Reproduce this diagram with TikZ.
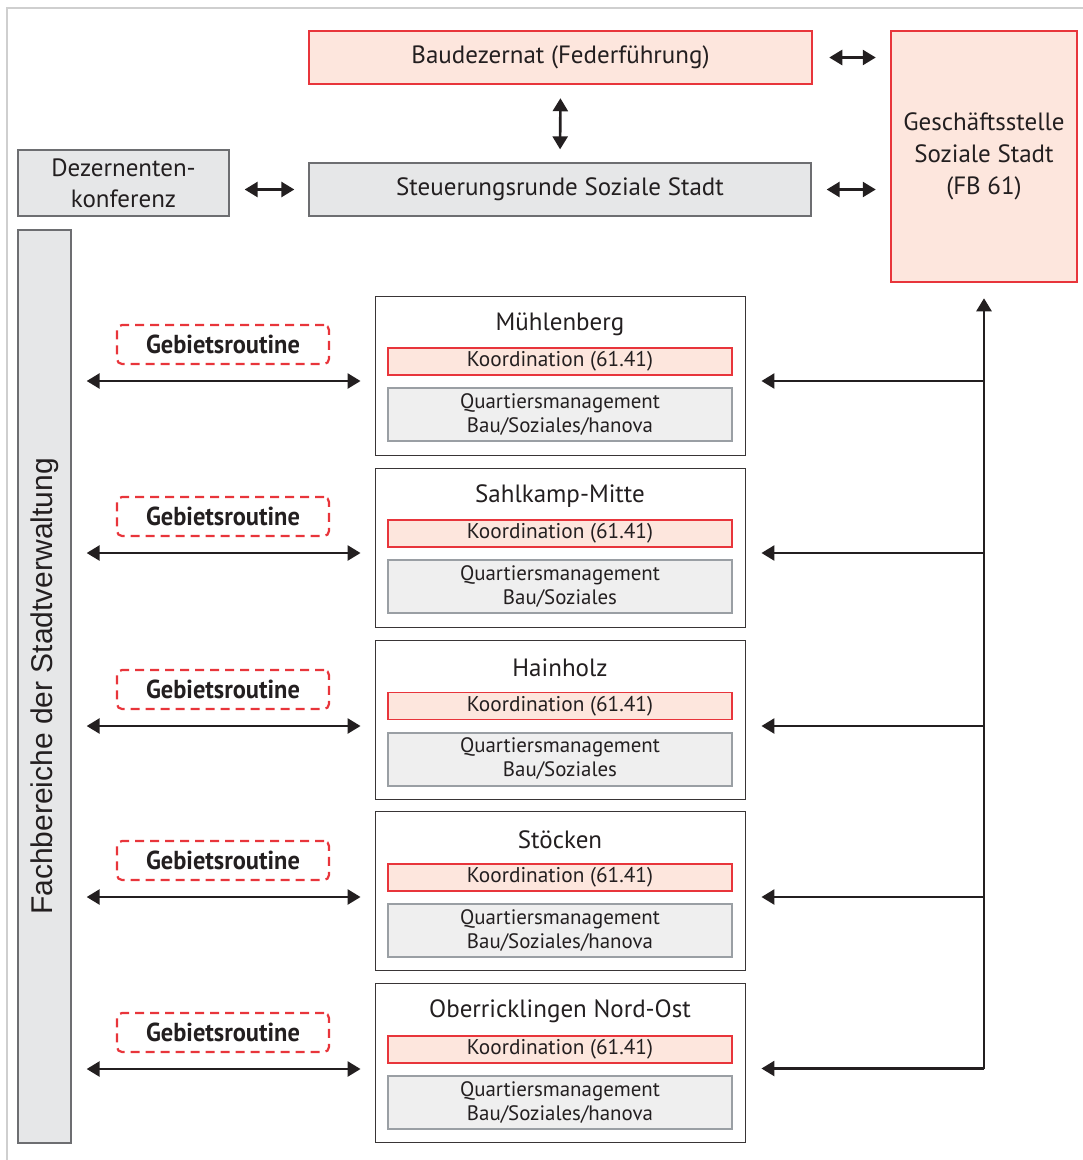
\documentclass[tikz,border=0pt]{standalone}
\usepackage{fontspec}
\setmainfont{PT Sans}
\newfontfamily\fachfont{Liberation Sans}
\newfontfamily\gebietfont[FakeStretch=0.94]{PT Sans}
\usetikzlibrary{arrows.meta}

\definecolor{rahmen}{HTML}{CFCFCF}
\definecolor{rot}{HTML}{E8353B}
\definecolor{rosa}{HTML}{FDE6DD}
\definecolor{grau}{HTML}{E6E7E8}
\definecolor{hellgrau}{HTML}{EFEFEF}
\definecolor{randgrau}{HTML}{6D6E71}
\definecolor{qmrand}{HTML}{9A9FA4}
\definecolor{schrift}{HTML}{231F20}

\tikzset{
  kasten/.style   ={inner sep=0pt, align=center, text=schrift},
  rotbox/.style   ={kasten, draw=rot, line width=2.5pt, fill=rosa, font=\fontsize{25}{32}\selectfont},
  graubox/.style  ={kasten, draw=randgrau, line width=1.3pt, fill=grau, font=\fontsize{25}{31}\selectfont},
  gebiet/.style   ={kasten, draw=schrift!90, line width=0.9pt, fill=white, minimum width=370pt, minimum height=159pt},
  titel/.style    ={kasten, font=\fontsize{25}{28}\selectfont},
  koord/.style    ={kasten, draw=rot, line width=1.6pt, fill=rosa, minimum width=344pt, minimum height=27pt, font=\fontsize{21.3}{24}\selectfont},
  qm/.style       ={kasten, draw=qmrand, line width=2pt, fill=hellgrau, minimum width=344pt, minimum height=53pt, font=\fontsize{20.9}{24}\selectfont},
  routine/.style  ={kasten, draw=rot, dashed, dash pattern=on 9pt off 6pt, line width=2.2pt, rounded corners=5pt, minimum width=212pt, minimum height=39pt, font=\gebietfont\bfseries\fontsize{26}{28}\selectfont},
  pfeil/.style    ={line width=2.6pt, draw=schrift, {Triangle[length=13pt,width=15pt]}-{Triangle[length=13pt,width=15pt]}},
  zupfeil/.style  ={line width=2.6pt, draw=schrift, -{Triangle[length=13pt,width=15pt]}},
}

\begin{document}
\begin{tikzpicture}[x=1pt, y=-1pt]
        \useasboundingbox (0,0) rectangle (1083,1160);
        \draw [rahmen, line width=2pt]  (1083,8) -- (7,8) -- (7,1160);             % Rahmen
        % Leitungsebene
        \node [rotbox, minimum width=503pt, minimum height=53pt]  (bau)   at (560.5,57.5)   {Baudezernat (Federführung)};
        \node [rotbox, minimum width=186pt, minimum height=251pt] (gs)    at (984,156.5)    {Geschäftsstelle\\Soziale Stadt\\(FB 61)};
        \node [graubox, minimum width=211pt, minimum height=66pt] (dez)   at (123.5,183)    {Dezernenten-\\konferenz};
        \node [graubox, minimum width=502pt, minimum height=53pt] (steu)  at (560,189.5)    {Steuerungsrunde Soziale Stadt};
        \node [graubox, minimum width=913pt, minimum height=53pt, rotate=90, font=\fachfont\fontsize{30}{32}\selectfont] (fach) at (44.5,686.5) {Fachbereiche der Stadtverwaltung};
        \draw [pfeil, shorten <=16pt, shorten >=14pt] (bau.east) -- (bau.east -| gs.west);     %
        \draw [pfeil, shorten <=13pt, shorten >=13pt] (bau.south) -- (steu.north);             %
        \draw [pfeil, shorten <=15pt, shorten >=14pt] (steu.west -| dez.east) -- (steu.west);  %
        \draw [pfeil, shorten <=15pt, shorten >=14pt] (steu.east) -- (steu.east -| gs.west);   %
        % Gebiete
        \node [gebiet]  (reg1)  at (560,375.5)  {};                                  % Muehlenberg
        \node [titel]   (tit1)  at (560,324)    {Mühlenberg};                        %
        \node [koord]   (ko1)   at (560,361.5)  {Koordination (61.41)};              %
        \node [qm]      (qm1)   at (560,414.5)  {Quartiersmanagement\\Bau/Soziales/hanova};
        \node [routine] (rou1)  at (223,344.5)  {Gebietsroutine};                    %
        \node [gebiet]  (reg2)  at (560,547.5)  {};                                  % Sahlkamp
        \node [titel]   (tit2)  at (560,496)    {Sahlkamp-Mitte};                    %
        \node [koord]   (ko2)   at (560,533.5)  {Koordination (61.41)};              %
        \node [qm]      (qm2)   at (560,586.5)  {Quartiersmanagement\\Bau/Soziales}; %
        \node [routine] (rou2)  at (223,516.5)  {Gebietsroutine};                    %
        \node [gebiet]  (reg3)  at (560,719.5)  {};                                  % Hainholz
        \node [titel]   (tit3)  at (560,668)    {Hainholz};                          %
        \node [koord]   (ko3)   at (560,706)    {Koordination (61.41)};              %
        \node [qm]      (qm3)   at (560,759)    {Quartiersmanagement\\Bau/Soziales}; %
        \node [routine] (rou3)  at (223,689.5)  {Gebietsroutine};                    %
        \node [gebiet]  (reg4)  at (560,891)    {};                                  % Stoecken
        \node [titel]   (tit4)  at (560,839.5)  {Stöcken};                           %
        \node [koord]   (ko4)   at (560,877.5)  {Koordination (61.41)};              %
        \node [qm]      (qm4)   at (560,930.5)  {Quartiersmanagement\\Bau/Soziales/hanova};
        \node [routine] (rou4)  at (223,860.5)  {Gebietsroutine};                    %
        \node [gebiet]  (reg5)  at (560,1063)   {};                                  % Oberricklingen
        \node [titel]   (tit5)  at (560,1011.5) {Oberricklingen Nord-Ost};           %
        \node [koord]   (ko5)   at (560,1049.5) {Koordination (61.41)};              %
        \node [qm]      (qm5)   at (560,1102.5) {Quartiersmanagement\\Bau/Soziales/hanova};
        \node [routine] (rou5)  at (223,1032.5) {Gebietsroutine};                    %
        % Verbindungen
        \coordinate (ende) at ([yshift=-5.5pt]reg5.east -| gs.south);
        \draw [zupfeil, shorten >=15pt] (ende) -- (gs.south);                        %
        \draw [pfeil, shorten <=15pt, shorten >=14pt] ([yshift=-5.5pt]reg1.west -| fach.south) -- ([yshift=-5.5pt]reg1.west);
        \draw [pfeil, shorten <=15pt, shorten >=14pt] ([yshift=-5.5pt]reg2.west -| fach.south) -- ([yshift=-5.5pt]reg2.west);
        \draw [pfeil, shorten <=15pt, shorten >=14pt] ([yshift=-6.5pt]reg3.west -| fach.south) -- ([yshift=-6.5pt]reg3.west);
        \draw [pfeil, shorten <=15pt, shorten >=14pt] ([yshift=-6pt]reg4.west -| fach.south) -- ([yshift=-6pt]reg4.west);
        \draw [pfeil, shorten <=15pt, shorten >=14pt] ([yshift=-6pt]reg5.west -| fach.south) -- ([yshift=-6pt]reg5.west);
        \draw [zupfeil, shorten >=16pt] ([yshift=-5.5pt]reg1.east -| gs.south) -- ([yshift=-5.5pt]reg1.east);
        \draw [zupfeil, shorten >=16pt] ([yshift=-5.5pt]reg2.east -| gs.south) -- ([yshift=-5.5pt]reg2.east);
        \draw [zupfeil, shorten >=16pt] ([yshift=-6.5pt]reg3.east -| gs.south) -- ([yshift=-6.5pt]reg3.east);
        \draw [zupfeil, shorten >=16pt] ([yshift=-6pt]reg4.east -| gs.south) -- ([yshift=-6pt]reg4.east);
        \draw [zupfeil, shorten >=16pt] (ende) -- ([yshift=-5.5pt]reg5.east);        %
\end{tikzpicture}
\end{document}
